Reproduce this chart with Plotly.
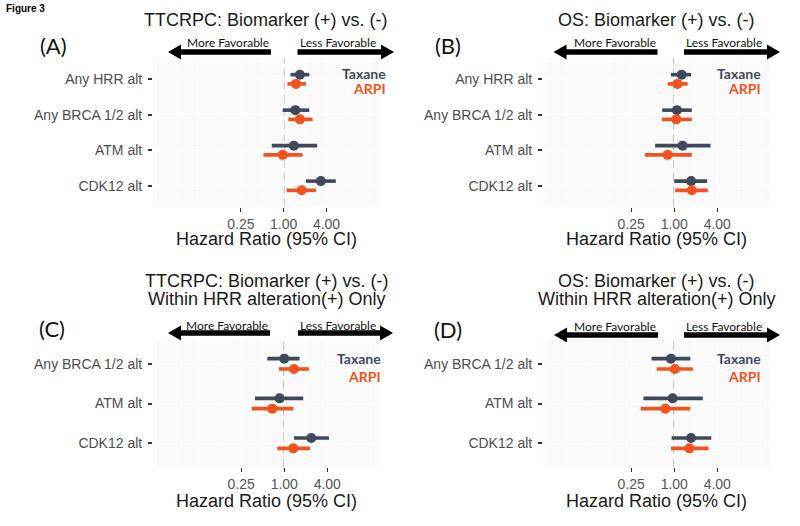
import math
import plotly.graph_objects as go

W, H = 800, 526
TAX_COLOR = "#3e4a5c"
ARPI_COLOR = "#f2521c"

# ---------------- data ----------------
cats_top = ["Any HRR alt", "Any BRCA 1/2 alt", "ATM alt", "CDK12 alt"]
cats_bottom = ["Any BRCA 1/2 alt", "ATM alt", "CDK12 alt"]

# (A) TTCRPC: Biomarker (+) vs. (-)
A_tax_hr = [1.69, 1.46, 1.39, 3.33]
A_tax_lo = [1.25, 0.97, 0.68, 2.05]
A_tax_hi = [2.29, 2.29, 2.96, 5.40]
A_arpi_hr = [1.49, 1.69, 0.97, 1.79]
A_arpi_lo = [1.13, 1.16, 0.52, 1.10]
A_arpi_hi = [2.05, 2.55, 1.84, 2.84]

# (B) OS: Biomarker (+) vs. (-)
B_tax_hr = [1.27, 1.09, 1.31, 1.72]
B_tax_lo = [0.90, 0.68, 0.54, 1.00]
B_tax_hi = [1.72, 1.76, 3.22, 2.89]
B_arpi_hr = [1.11, 1.07, 0.81, 1.76]
B_arpi_lo = [0.81, 0.67, 0.39, 1.03]
B_arpi_hi = [1.54, 1.76, 1.76, 2.95]

# (C) TTCRPC within HRR alteration(+)
C_tax_hr = [1.00, 0.86, 2.39]
C_tax_lo = [0.58, 0.39, 1.37]
C_tax_hi = [1.64, 1.84, 4.22]
C_arpi_hr = [1.37, 0.68, 1.34]
C_arpi_lo = [0.84, 0.35, 0.80]
C_arpi_hi = [2.21, 1.34, 2.29]

# (D) OS within HRR alteration(+)
D_tax_hr = [0.90, 0.95, 1.72]
D_tax_lo = [0.48, 0.37, 0.92]
D_tax_hi = [1.68, 2.51, 3.29]
D_arpi_hr = [1.02, 0.75, 1.63]
D_arpi_lo = [0.57, 0.34, 0.90]
D_arpi_hi = [1.82, 1.68, 3.02]

x_tickvals = [0.25, 1, 4]
x_ticktext = ["0.25", "1.00", "4.00"]
series_names = ["Taxane", "ARPI"]

# ---------------- layout geometry (pixels) ----------------
panels = [
    dict(label="(A)", title=["TTCRPC: Biomarker (+) vs. (-)"], cats=cats_top,
         tax=(A_tax_hr, A_tax_lo, A_tax_hi), arpi=(A_arpi_hr, A_arpi_lo, A_arpi_hi),
         px=(153, 379), py=(58, 207), title_y=[20], lab=(53, 45),
         arrows=(168, 271, 297.5, 394, 52, 43), leg=(388, 74, 89), xt_y=239),
    dict(label="(B)", title=["OS: Biomarker (+) vs. (-)"], cats=cats_top,
         tax=(B_tax_hr, B_tax_lo, B_tax_hi), arpi=(B_arpi_hr, B_arpi_lo, B_arpi_hi),
         px=(543, 770), py=(58, 207), title_y=[20], lab=(448, 46),
         arrows=(553.5, 657.5, 684, 780, 52, 43), leg=(763, 74, 89), xt_y=239),
    dict(label="(C)", title=["TTCRPC: Biomarker (+) vs. (-)", "Within HRR alteration(+) Only"],
         cats=cats_bottom,
         tax=(C_tax_hr, C_tax_lo, C_tax_hi), arpi=(C_arpi_hr, C_arpi_lo, C_arpi_hi),
         px=(153, 380), py=(340, 467), title_y=[281, 299], lab=(52, 328),
         arrows=(168, 270, 298, 393, 333, 325), leg=(383, 358, 376), xt_y=501),
    dict(label="(D)", title=["OS: Biomarker (+) vs. (-)", "Within HRR alteration(+) Only"],
         cats=cats_bottom,
         tax=(D_tax_hr, D_tax_lo, D_tax_hi), arpi=(D_arpi_hr, D_arpi_lo, D_arpi_hi),
         px=(543, 770), py=(340, 467), title_y=[281, 299], lab=(448, 329),
         arrows=(554, 658, 684, 780, 335, 326), leg=(763, 358, 376), xt_y=501),
]

def PX(x):
    return x / W

def PY(y):
    return 1 - y / H

fig = go.Figure()
shapes = []
annotations = []
layout_axes = {}

x_range = [math.log10(2 ** -6.1), math.log10(2 ** 4.45)]
minor_vals = [2 ** k for k in range(-8, 7) if k not in (-2, 0, 2)]
offset = 0.13

for i, p in enumerate(panels, start=1):
    xa = "x" if i == 1 else f"x{i}"
    ya = "y" if i == 1 else f"y{i}"
    n = len(p["cats"])
    pos = list(range(1, n + 1))

    for (hr, lo, hi), color, off, name in [
        (p["tax"], TAX_COLOR, -offset, "Taxane"),
        (p["arpi"], ARPI_COLOR, offset, "ARPI"),
    ]:
        lx, ly = [], []
        for k in range(n):
            lx += [lo[k], hi[k], None]
            ly += [pos[k] + off, pos[k] + off, None]
        fig.add_trace(go.Scatter(x=lx, y=ly, mode="lines", xaxis=xa, yaxis=ya,
                                 line=dict(color=color, width=3.6), hoverinfo="skip",
                                 showlegend=False))
        fig.add_trace(go.Scatter(x=hr, y=[q + off for q in pos], mode="markers",
                                 xaxis=xa, yaxis=ya, name=name,
                                 marker=dict(color=color, size=10, line=dict(width=0)),
                                 showlegend=False))

    xkey = "xaxis" if i == 1 else f"xaxis{i}"
    ykey = "yaxis" if i == 1 else f"yaxis{i}"
    layout_axes[xkey] = dict(
        domain=[PX(p["px"][0]), PX(p["px"][1])], anchor=ya, type="log",
        range=x_range, tickmode="array", tickvals=x_tickvals, ticktext=x_ticktext,
        ticks="outside", ticklen=4, tickwidth=1.4, tickcolor="#333333",
        tickfont=dict(family="Liberation Sans, Arial", size=14, color="#555555"),
        showgrid=True, gridcolor="white", gridwidth=1.1,
        minor=dict(tickmode="array", tickvals=minor_vals, showgrid=True,
                   gridcolor="white", gridwidth=0.8, ticks=""),
        zeroline=False, showline=False, fixedrange=True,
    )
    layout_axes[ykey] = dict(
        domain=[PY(p["py"][1]), PY(p["py"][0])], anchor=xa,
        range=[n + 0.6, 0.4], tickmode="array", tickvals=pos, ticktext=p["cats"],
        ticks="outside", ticklen=4, tickwidth=1.6, tickcolor="#333333",
        ticklabelstandoff=3,
        tickfont=dict(family="Liberation Sans, Arial", size=14, color="#4d4d4d"),
        showgrid=True, gridcolor="white", gridwidth=1.1,
        zeroline=False, showline=False, fixedrange=True,
    )

    # reference line at HR = 1
    shapes.append(dict(type="line", xref=xa, yref=f"{ya} domain", x0=1, x1=1, y0=0, y1=1,
                       line=dict(color="#8c8c8c", width=1.5, dash="8px,5px"), layer="below"))

    # arrows
    lt, le, rs, rt, ay, ty = p["arrows"]
    hl, hh, sh = 13, 7.5, 2.8
    left_pts = [(lt, ay), (lt + hl, ay - hh), (lt + hl, ay - sh), (le, ay - sh),
                (le, ay + sh), (lt + hl, ay + sh), (lt + hl, ay + hh)]
    right_pts = [(rt, ay), (rt - hl, ay - hh), (rt - hl, ay - sh), (rs, ay - sh),
                 (rs, ay + sh), (rt - hl, ay + sh), (rt - hl, ay + hh)]
    for pts in (left_pts, right_pts):
        path = "M " + " L ".join(f"{PX(x):.5f},{PY(y):.5f}" for x, y in pts) + " Z"
        shapes.append(dict(type="path", xref="paper", yref="paper", path=path,
                           fillcolor="black", line=dict(width=0)))
    annotations.append(dict(text="More Favorable", x=PX(le), y=PY(ty), xref="paper", yref="paper",
                            xanchor="right", yanchor="middle", showarrow=False,
                            font=dict(family="Lato", size=12, color="#111111")))
    annotations.append(dict(text="Less Favorable", x=PX(rs), y=PY(ty), xref="paper", yref="paper",
                            xanchor="left", yanchor="middle", showarrow=False,
                            font=dict(family="Lato", size=12, color="#111111")))

    # titles
    cx = (p["px"][0] + p["px"][1]) / 2
    for line, yy in zip(p["title"], p["title_y"]):
        annotations.append(dict(text=line, x=PX(cx), y=PY(yy), xref="paper", yref="paper",
                                xanchor="center", yanchor="middle", showarrow=False,
                                font=dict(family="Liberation Sans, Arial", size=18, color="#1a1a1a")))
    # x axis title
    annotations.append(dict(text="Hazard Ratio (95% CI)", x=PX(cx), y=PY(p["xt_y"]),
                            xref="paper", yref="paper", xanchor="center", yanchor="middle",
                            showarrow=False,
                            font=dict(family="Liberation Sans, Arial", size=18, color="#1a1a1a")))
    # panel label
    annotations.append(dict(text=p["label"], x=PX(p["lab"][0]), y=PY(p["lab"][1]),
                            xref="paper", yref="paper", xanchor="center", yanchor="middle",
                            showarrow=False, font=dict(family="Lato", size=22, color="#111111")))
    # legend text
    lx_, t_y, a_y = p["leg"]
    annotations.append(dict(text="<b>" + series_names[0] + "</b>", x=PX(lx_), y=PY(t_y),
                            xref="paper", yref="paper", xanchor="right", yanchor="middle",
                            showarrow=False, font=dict(family="Lato", size=14, color=TAX_COLOR)))
    annotations.append(dict(text="<b>" + series_names[1] + "</b>", x=PX(lx_), y=PY(a_y),
                            xref="paper", yref="paper", xanchor="right", yanchor="middle",
                            showarrow=False, font=dict(family="Lato", size=14, color=ARPI_COLOR)))

annotations.append(dict(text="<b>Figure 3</b>", x=PX(4), y=PY(8), xref="paper", yref="paper",
                        xanchor="left", yanchor="middle", showarrow=False,
                        font=dict(family="Liberation Sans, Arial", size=10, color="#000000")))

fig.update_layout(
    width=W, height=H, autosize=False,
    margin=dict(l=0, r=0, t=0, b=0),
    paper_bgcolor="white", plot_bgcolor="#fafafa",
    showlegend=False, shapes=shapes, annotations=annotations,
    **layout_axes,
)

fig.write_html("out.html", config={"displayModeBar": False},
               post_script="document.body.style.margin='0';document.body.style.overflow='hidden';")
